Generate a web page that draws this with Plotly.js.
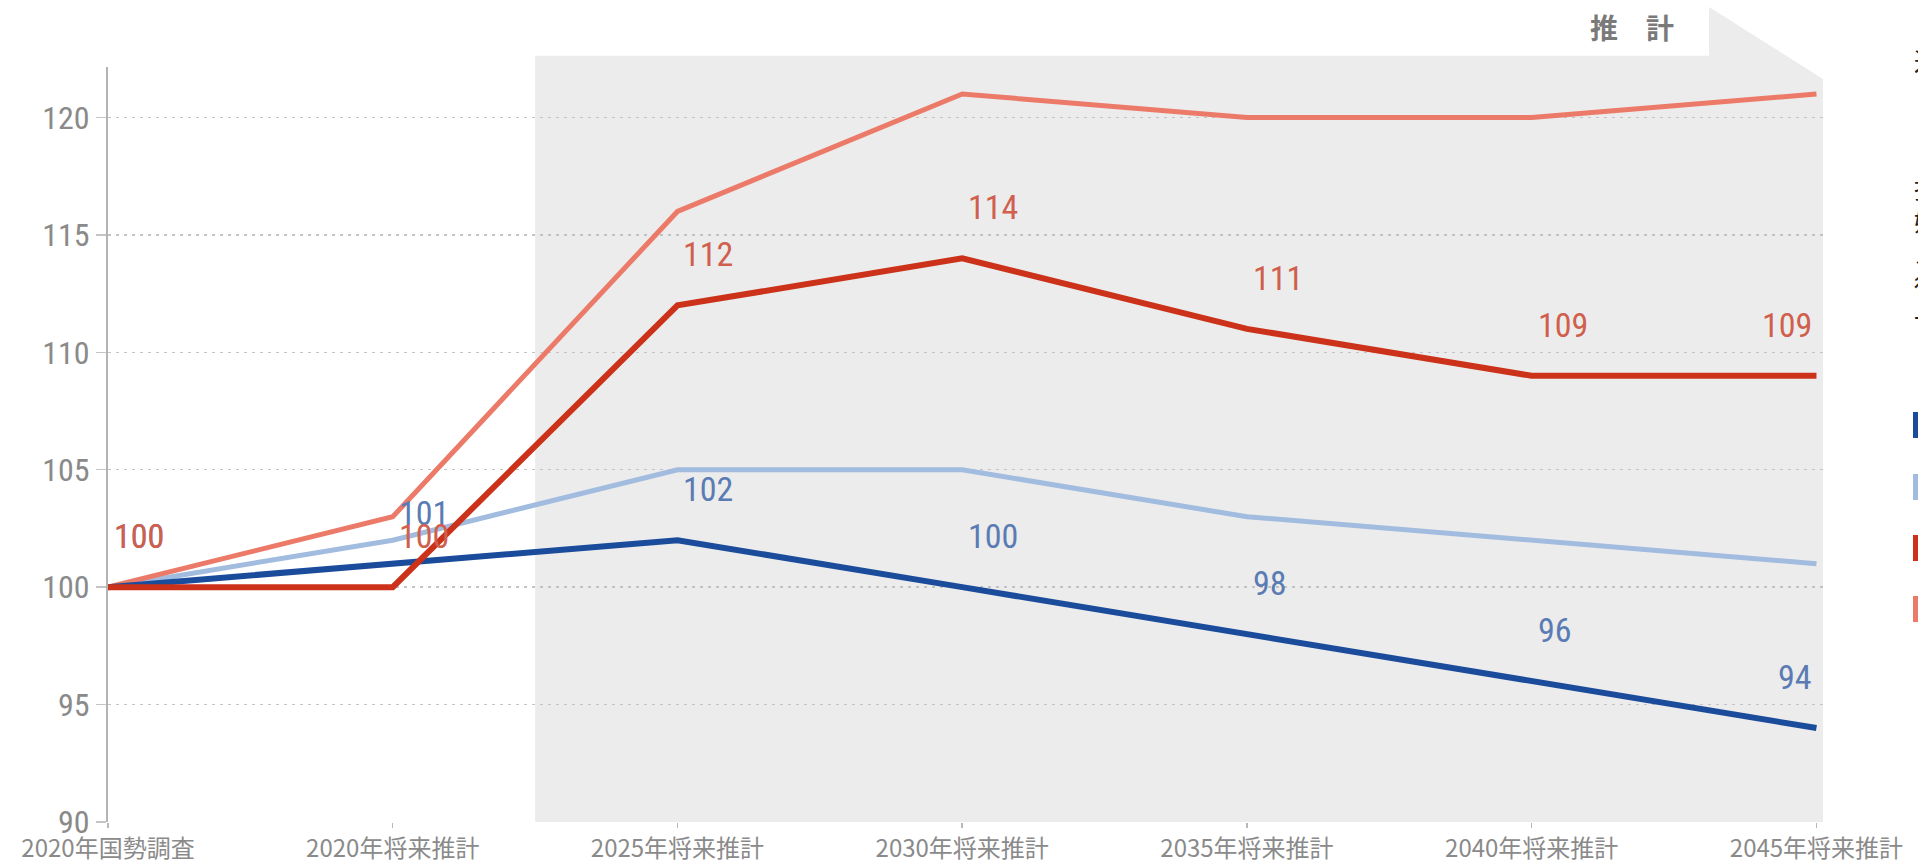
<!DOCTYPE html>
<html>
<head>
<meta charset="utf-8">
<script src="https://cdn.plot.ly/plotly-3.0.1.min.js"></script>
<style>
html,body{margin:0;padding:0;background:#fff;overflow:hidden;}
#chart{width:1918px;height:861px;}
#chart .ytick text, #chart text.annotation-text{font-stretch:75%;}
</style>
</head>
<body>
<div id="chart"></div>
<script>
// ---------------- data ----------------
const categories = ['2020年国勢調査','2020年将来推計','2025年将来推計','2030年将来推計','2035年将来推計','2040年将来推計','2045年将来推計'];
const seriesNames = ['人口','人口（比較）','世帯数','世帯数（比較）'];
const darkBlueValues  = [100,101,102,100,98,96,94];
const lightBlueValues = [100,102,105,105,103,102,101];
const darkRedValues   = [100,100,112,114,111,109,109];
const salmonValues    = [100,103,116,121,120,120,121];
const yTickValues = [90,95,100,105,110,115,120];
const projectionStartCategory = 1.5;   // shaded "推計" area begins between 2020将来推計 and 2025将来推計
const tabLabel = '推　計';
const sideTitle = '近畿圏の推移';
const sideNote = ['指数（2020年国勢調査＝100）','婚姻・出生等の仮定による','スライド推計','従来推計との比較','一部推計値を含む'];

// ---------------- styles ----------------
const W = 1918, H = 861;
const M = {l:108, r:95, t:67, b:39};
const plotW = W - M.l - M.r, plotH = H - M.t - M.b;
const xRange = [0, 6.023];
const yRange = [90, 122.15];
const colors = {
  darkBlue:'#1b4c9c', lightBlue:'#a2bcdf', darkRed:'#cb3219', salmon:'#ec7a69',
  blueLabel:'#5a7bb3', redLabel:'#d05f4e'
};
const numFont = 'Noto Sans Condensed, Liberation Sans Narrow, Roboto Condensed, Noto Sans, sans-serif';
const cjkFont = 'Noto Sans CJK JP, Noto Sans, sans-serif';

const px2paperX = px => (px - M.l) / plotW;
const px2paperY = py => (H - M.b - py) / plotH;

// ---------------- traces ----------------
function lineTrace(name, values, color, width){
  return {type:'scatter', mode:'lines', name:name, x:categories, y:values,
    line:{color:color, width:width, shape:'linear'}, showlegend:false, hoverinfo:'skip'};
}
const traces = [
  lineTrace(seriesNames[1], lightBlueValues, colors.lightBlue, 5),
  lineTrace(seriesNames[3], salmonValues, colors.salmon, 5),
  lineTrace(seriesNames[0], darkBlueValues, colors.darkBlue, 6),
  lineTrace(seriesNames[2], darkRedValues, colors.darkRed, 6)
];

// ---------------- value labels ----------------
const annotations = [];
function addLabels(values, color){
  values.forEach((v,i)=>{
    const last = i === values.length - 1;
    annotations.push({
      x: categories[i], y: v, xref:'x', yref:'y', text:String(v), showarrow:false,
      xanchor: last ? 'right' : 'left', yanchor:'middle',
      xshift: last ? -2 : 4, yshift: 51,
      font:{family:numFont, size:34, color:color}
    });
  });
}
addLabels(darkBlueValues, colors.blueLabel);
addLabels(darkRedValues, colors.redLabel);

// tab label
annotations.push({x:px2paperX(1632), y:px2paperY(27), xref:'paper', yref:'paper',
  text:tabLabel, showarrow:false, xanchor:'center', yanchor:'middle',
  font:{family:cjkFont, size:28, color:'#7a7a7a', weight:700}});

// side texts (cut off at the right edge in the original)
annotations.push({x:px2paperX(1912), y:px2paperY(60), xref:'paper', yref:'paper',
  text:sideTitle, showarrow:false, xanchor:'left', yanchor:'middle',
  font:{family:cjkFont, size:25, color:'#222'}});
annotations.push({x:px2paperX(1912), y:px2paperY(252), xref:'paper', yref:'paper',
  text:sideNote.join('<br>'), showarrow:false, xanchor:'left', yanchor:'middle', align:'left',
  font:{family:cjkFont, size:25, color:'#222'}});

// ---------------- shapes ----------------
const shadeX0 = (projectionStartCategory - xRange[0]) / (xRange[1] - xRange[0]);
const tabX = px2paperX(1709);
const topGray = px2paperY(55.7), tabTop = px2paperY(7), diagEnd = px2paperY(79);
const shapes = [{
  type:'path', xref:'paper', yref:'paper', layer:'below',
  path:`M ${shadeX0} 0 L ${shadeX0} ${topGray} L ${tabX} ${topGray} L ${tabX} ${tabTop} L 1 ${diagEnd} L 1 0 Z`,
  fillcolor:'#ececec', line:{width:0}
}];
const legendColors = [colors.darkBlue, colors.lightBlue, colors.darkRed, colors.salmon];
const legendCenters = [425, 487, 548, 609];
legendColors.forEach((c,i)=>{
  shapes.push({type:'rect', xref:'paper', yref:'paper', layer:'above',
    x0:px2paperX(1913), x1:px2paperX(1940),
    y0:px2paperY(legendCenters[i]+13), y1:px2paperY(legendCenters[i]-13),
    fillcolor:c, line:{width:0}});
});

const layout = {
  width:W, height:H, autosize:false,
  margin:{l:M.l, r:M.r, t:M.t, b:M.b, pad:0},
  paper_bgcolor:'#ffffff', plot_bgcolor:'rgba(0,0,0,0)',
  showlegend:false,
  xaxis:{type:'category', range:xRange, showgrid:false, zeroline:false, showline:false,
    ticks:'outside', ticklen:5, tickwidth:1.5, tickcolor:'#b8b8b8', ticklabelstandoff:0,
    tickfont:{family:cjkFont, size:24, color:'#8a8a8a'}, fixedrange:true},
  yaxis:{range:yRange, tickmode:'array', tickvals:yTickValues, ticktext:yTickValues.map(String),
    showgrid:true, gridcolor:'#c2c2c2', gridwidth:1.5, griddash:'3px,5px',
    zeroline:false, showline:true, linecolor:'#b4b4b4', linewidth:2,
    ticks:'outside', ticklen:10, tickwidth:1.5, tickcolor:'#c4c4c4',
    tickfont:{family:numFont, size:32, color:'#8a8a8a'}, fixedrange:true},
  annotations:annotations,
  shapes:shapes
};

Plotly.newPlot('chart', traces, layout, {displayModeBar:false, staticPlot:true});
</script>
</body>
</html>
